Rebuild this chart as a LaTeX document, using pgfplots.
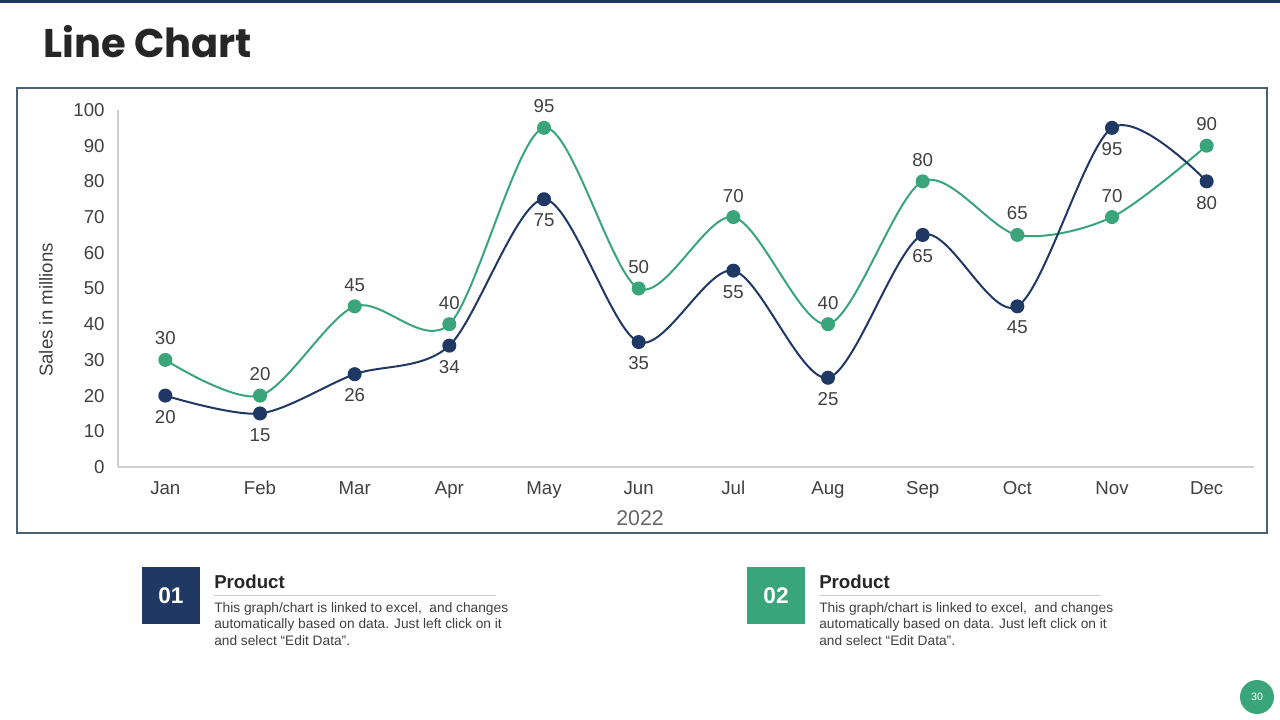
\documentclass[border=0pt]{standalone}
\usepackage{fontspec}
\setmainfont{Liberation Sans}
\newfontfamily\titlefont{Poppins}
\usepackage{pgfplots}
\pgfplotsset{compat=1.18}
\definecolor{navy}{HTML}{1F3864}
\definecolor{teal}{HTML}{3AA57B}
\definecolor{frame}{HTML}{4A6272}
\definecolor{axgray}{HTML}{D0D0D0}
\definecolor{txt}{HTML}{404040}
\begin{document}
\begin{tikzpicture}[x=0.75pt,y=-0.75pt]
\useasboundingbox (0,0) rectangle (1280,720);
\fill[white] (0,0) rectangle (1280,720);
\fill[navy] (0,0) rectangle (1280,3);
\node[anchor=base west,inner sep=0pt,text=black!85,font=\titlefont\bfseries\fontsize{30}{36}\selectfont] at (43,58) {Line Chart};
\draw[frame,line width=0.8pt] (17,88) rectangle (1267,533);

\coordinate (A) at (118,467);
\begin{scope}[x=1cm,y=1cm]
\begin{axis}[
  at={(A)}, anchor=south west,
  scale only axis, width=852pt, height=267.75pt,
  xmin=-0.5, xmax=11.5, ymin=0, ymax=100,
  clip=false,
  axis lines*=left,
  axis line style={axgray, line width=0.8pt, -},
  major tick length=0pt,
  xtick={0,...,11},
  xticklabels={Jan,Feb,Mar,Apr,May,Jun,Jul,Aug,Sep,Oct,Nov,Dec},
  ytick={0,10,...,100},
  tick label style={font=\fontsize{14}{16}\selectfont, text=txt},
  xticklabel style={yshift=-7pt, text height=10pt, text depth=3pt},
  yticklabel style={xshift=-6.5pt},
  /pgf/number format/assume math mode=true,
  every node near coord/.append style={font=\fontsize{14}{16}\selectfont, text=txt},
]
\addplot[teal, line width=1.5pt, smooth, tension=0.5, mark=*, mark size=4.5pt,
  nodes near coords, every node near coord/.append style={anchor=south, yshift=7pt}]
  coordinates {(0,30) (1,20) (2,45) (3,40) (4,95) (5,50) (6,70) (7,40) (8,80) (9,65) (10,70) (11,90)};
\addplot[navy, line width=1.5pt, smooth, tension=0.5, mark=*, mark size=4.5pt,
  nodes near coords, every node near coord/.append style={anchor=north, yshift=-7pt}]
  coordinates {(0,20) (1,15) (2,26) (3,34) (4,75) (5,35) (6,55) (7,25) (8,65) (9,45) (10,95) (11,80)};
\end{axis}
\end{scope}

\node[rotate=90,text=txt,font=\fontsize{14}{16}\selectfont] at (46,310) {Sales in millions};
\node[text=black!60,font=\fontsize{16}{18}\selectfont] at (640,518) {2022};

% info boxes
\fill[navy] (142,567) rectangle (200,624);
\node[white,font=\bfseries\fontsize{17}{20}\selectfont] at (171,596) {01};
\node[anchor=base west,inner sep=0pt,text=black!85,font=\bfseries\fontsize{14}{16}\selectfont] at (214,588) {Product};
\draw[black!20,line width=0.6pt] (214,595) -- (496,595);
\node[anchor=north west,inner sep=0pt,text=txt,align=left,font=\fontsize{10.3}{12.4}\selectfont] at (214,602)
  {This graph/chart is linked to excel, \ and changes\\automatically based on data. Just left click on it\\and select “Edit Data”.};

\fill[teal] (747,567) rectangle (805,624);
\node[white,font=\bfseries\fontsize{17}{20}\selectfont] at (776,596) {02};
\node[anchor=base west,inner sep=0pt,text=black!85,font=\bfseries\fontsize{14}{16}\selectfont] at (819,588) {Product};
\draw[black!20,line width=0.6pt] (819,595) -- (1101,595);
\node[anchor=north west,inner sep=0pt,text=txt,align=left,font=\fontsize{10.3}{12.4}\selectfont] at (819,602)
  {This graph/chart is linked to excel, \ and changes\\automatically based on data. Just left click on it\\and select “Edit Data”.};

\fill[teal] (1257,697) circle[radius=17];
\node[white,font=\fontsize{8}{10}\selectfont] at (1257,697) {30};
\end{tikzpicture}
\end{document}
